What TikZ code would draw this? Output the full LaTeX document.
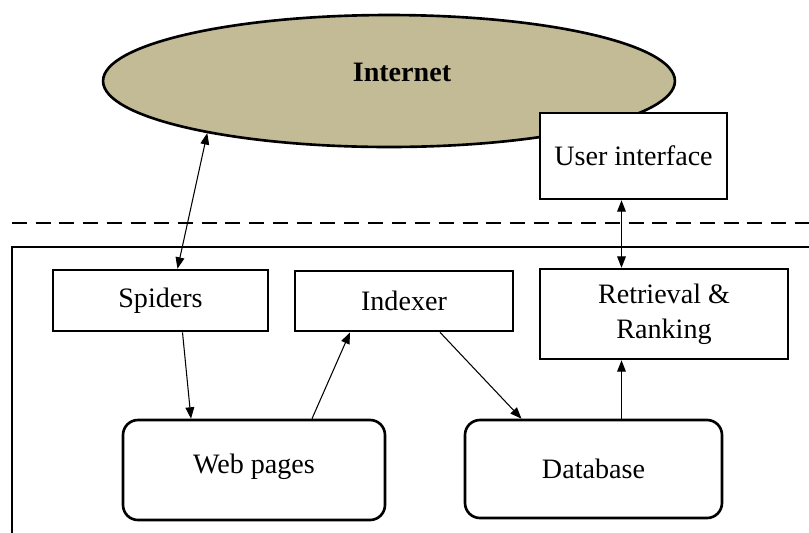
\documentclass[tikz,border=0pt]{standalone}
\usepackage{fontspec}
\setmainfont{Liberation Serif}
\usetikzlibrary{calc,arrows.meta,shapes.geometric,positioning}
\definecolor{nettan}{RGB}{194,187,150}

\begin{document}
\begin{tikzpicture}[x=0.02cm, y=-0.02cm, font=\fontsize{16}{20}\selectfont,
    procbox/.style={draw, line width=1.5pt, fill=white, align=center, inner sep=0pt},
    storebox/.style={draw, line width=1.5pt, rounded corners=8.5pt, inner sep=0pt},
    flow/.style={-{Triangle[length=6.5pt, width=5pt]}, line width=0.6pt},
    biflow/.style={{Triangle[length=6.5pt, width=5pt]}-{Triangle[length=6.5pt, width=5pt]}, line width=0.6pt}]
  \useasboundingbox (0,0) rectangle (809,532);
  % Internet cloud
  \node[ellipse, draw, line width=1.5pt, fill=nettan, inner sep=0pt,
        minimum width=11.44cm, minimum height=2.64cm] (internet) at (389,81) {};
  \node[font=\fontsize{16}{20}\selectfont\bfseries] (netlabel) at (402,72) {Internet};
  % User side
  \node[procbox, minimum width=3.74cm, minimum height=1.72cm] (ui) at (633.5,156) {User interface};
  % Boundary of the engine
  \draw[line width=1.6pt, dash pattern=on 8.5pt off 5pt] (12,223) -- (820,223);
  \draw[line width=1.2pt] (12,560) -- (12,247) -- (830,247);
  % Engine parts
  \node[procbox, minimum width=4.3cm, minimum height=1.22cm] (spiders) at (160.5,300.5) {Spiders};
  \node[procbox, minimum width=4.36cm, minimum height=1.2cm] (indexer) at (404,301) {Indexer};
  \node[procbox, minimum width=4.96cm, minimum height=1.8cm] (retr) at (664,314) {Retrieval \&\\Ranking};
  \node[storebox, minimum width=5.24cm, minimum height=2cm, text depth=7pt] (web) at (254,470) {Web pages};
  \node[storebox, minimum width=5.14cm, minimum height=1.96cm] (db) at (593.5,469) {Database};
  % Connectors
  \draw[biflow] ($(spiders.north)+(17,0)$) -- (internet.196);
  \draw[biflow] ($(ui.south)+(-12,0)$) coordinate (uiport) -- (uiport |- retr.north);
  \draw[flow] ($(spiders.south)+(22,0)$) -- ($(web.north)+(-63,0)$);
  \draw[flow] ($(web.north)+(58,0)$) -- ($(indexer.south)+(-54,0)$);
  \draw[flow] ($(indexer.south)+(36,0)$) -- ($(db.north)+(-72,0)$);
  \draw[flow] ($(db.north)+(28,0)$) coordinate (dbport) -- (dbport |- retr.south);
\end{tikzpicture}
\end{document}
